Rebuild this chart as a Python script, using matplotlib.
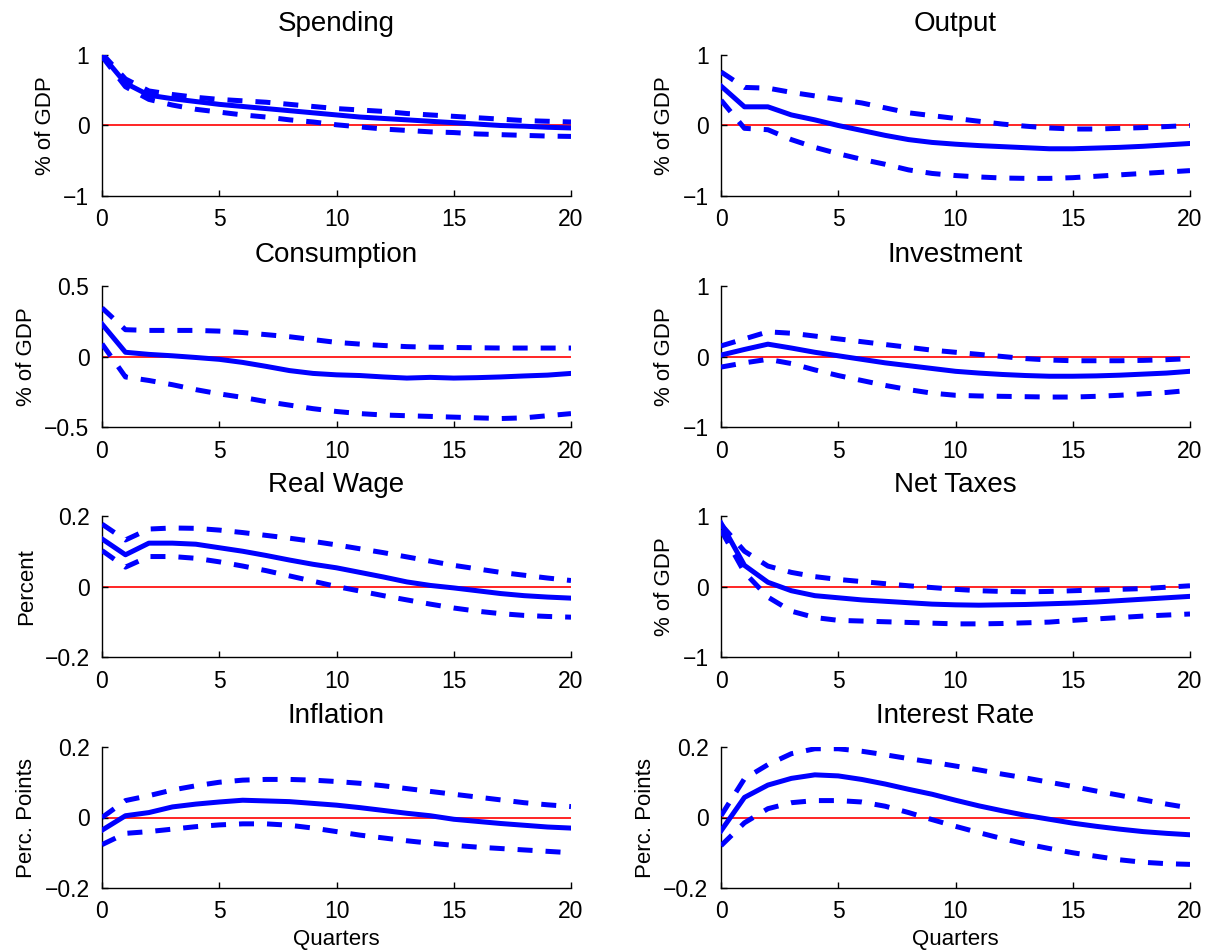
import numpy as np
import matplotlib
matplotlib.use("Agg")
import matplotlib.pyplot as plt

plt.rcParams['font.family'] = ['Liberation Sans', 'DejaVu Sans']

# ---------------- IMPULSE RESPONSES (median, upper band, lower band) ----------------
quarters = np.arange(21)

spending_mid = [1.0, 0.60, 0.43, 0.38, 0.34, 0.30, 0.27, 0.24, 0.21, 0.18, 0.15,
                0.12, 0.10, 0.08, 0.06, 0.04, 0.02, 0.0, -0.01, -0.025, -0.035]
spending_hi = [1.02, 0.66, 0.49, 0.44, 0.40, 0.37, 0.35, 0.33, 0.30, 0.27, 0.24,
               0.22, 0.20, 0.17, 0.15, 0.13, 0.11, 0.09, 0.07, 0.06, 0.05]
spending_lo = [0.98, 0.55, 0.37, 0.29, 0.23, 0.19, 0.15, 0.12, 0.08, 0.05, 0.01,
               -0.02, -0.05, -0.07, -0.09, -0.10, -0.12, -0.13, -0.14, -0.15, -0.155]

output_mid = [0.56, 0.265, 0.265, 0.15, 0.08, 0.0, -0.07, -0.14, -0.2, -0.24, -0.265,
              -0.285, -0.3, -0.315, -0.33, -0.33, -0.32, -0.31, -0.295, -0.275, -0.255]
output_hi = [0.76, 0.54, 0.53, 0.47, 0.42, 0.37, 0.32, 0.25, 0.18, 0.14, 0.1,
             0.06, 0.02, -0.01, -0.035, -0.05, -0.05, -0.04, -0.03, -0.015, 0.0]
output_lo = [0.36, -0.04, -0.06, -0.2, -0.31, -0.4, -0.48, -0.55, -0.63, -0.68, -0.71,
             -0.73, -0.745, -0.75, -0.75, -0.74, -0.72, -0.70, -0.68, -0.66, -0.64]

cons_mid = [0.23, 0.03, 0.015, 0.005, -0.007, -0.02, -0.042, -0.07, -0.1, -0.12, -0.13,
            -0.135, -0.145, -0.153, -0.148, -0.153, -0.15, -0.145, -0.138, -0.132, -0.12]
cons_hi = [0.345, 0.19, 0.185, 0.185, 0.185, 0.18, 0.17, 0.155, 0.14, 0.12, 0.1,
           0.088, 0.078, 0.07, 0.066, 0.064, 0.062, 0.06, 0.06, 0.06, 0.06]
cons_lo = [0.09, -0.145, -0.17, -0.2, -0.235, -0.265, -0.29, -0.32, -0.345, -0.37, -0.39,
           -0.405, -0.415, -0.42, -0.425, -0.43, -0.435, -0.44, -0.435, -0.42, -0.405]

inv_mid = [0.02, 0.1, 0.175, 0.12, 0.06, 0.01, -0.04, -0.09, -0.13, -0.17, -0.21,
           -0.235, -0.255, -0.27, -0.28, -0.28, -0.275, -0.265, -0.25, -0.235, -0.21]
inv_hi = [0.15, 0.25, 0.35, 0.33, 0.29, 0.25, 0.21, 0.17, 0.13, 0.09, 0.06,
          0.03, 0.0, -0.03, -0.05, -0.06, -0.06, -0.06, -0.055, -0.045, -0.03]
inv_lo = [-0.15, -0.09, -0.04, -0.1, -0.19, -0.27, -0.34, -0.41, -0.47, -0.52, -0.55,
          -0.56, -0.565, -0.57, -0.575, -0.575, -0.565, -0.55, -0.53, -0.51, -0.48]

wage_mid = [0.135, 0.09, 0.123, 0.123, 0.12, 0.11, 0.1, 0.088, 0.075, 0.063, 0.053,
            0.04, 0.027, 0.013, 0.003, -0.004, -0.012, -0.02, -0.026, -0.03, -0.033]
wage_hi = [0.177, 0.132, 0.163, 0.166, 0.165, 0.16, 0.153, 0.145, 0.137, 0.128, 0.118,
           0.107, 0.096, 0.084, 0.072, 0.06, 0.05, 0.04, 0.032, 0.024, 0.017]
wage_lo = [0.102, 0.055, 0.085, 0.085, 0.08, 0.07, 0.058, 0.045, 0.03, 0.015, 0.0,
           -0.013, -0.026, -0.038, -0.05, -0.061, -0.07, -0.077, -0.082, -0.085, -0.087]

tax_mid = [0.9, 0.3, 0.06, -0.06, -0.13, -0.16, -0.19, -0.21, -0.23, -0.25, -0.26,
           -0.265, -0.26, -0.255, -0.245, -0.235, -0.22, -0.2, -0.18, -0.16, -0.14]
tax_hi = [0.88, 0.5, 0.29, 0.2, 0.14, 0.1, 0.07, 0.04, 0.01, -0.015, -0.04,
          -0.06, -0.07, -0.075, -0.07, -0.06, -0.05, -0.04, -0.03, -0.01, 0.01]
tax_lo = [0.8, 0.2, -0.15, -0.35, -0.44, -0.48, -0.49, -0.5, -0.51, -0.52, -0.53,
          -0.53, -0.525, -0.515, -0.505, -0.48, -0.46, -0.44, -0.42, -0.405, -0.39]

infl_mid = [-0.036, 0.005, 0.014, 0.03, 0.038, 0.044, 0.049, 0.047, 0.045, 0.04, 0.035,
            0.028, 0.02, 0.012, 0.005, -0.005, -0.011, -0.017, -0.022, -0.027, -0.03]
infl_hi = [0.0, 0.048, 0.062, 0.078, 0.09, 0.1, 0.106, 0.108, 0.108, 0.106, 0.102,
           0.097, 0.09, 0.082, 0.074, 0.066, 0.058, 0.05, 0.042, 0.036, 0.031]
infl_lo = [-0.077, -0.045, -0.04, -0.033, -0.026, -0.021, -0.018, -0.018, -0.022, -0.03, -0.04,
           -0.05, -0.058, -0.066, -0.073, -0.079, -0.084, -0.088, -0.092, -0.096, -0.1]

rate_mid = [-0.038, 0.057, 0.092, 0.111, 0.121, 0.118, 0.108, 0.095, 0.08, 0.066, 0.049,
            0.033, 0.019, 0.006, -0.005, -0.016, -0.025, -0.033, -0.04, -0.045, -0.049]
rate_hi = [0.005, 0.11, 0.15, 0.181, 0.195, 0.195, 0.188, 0.178, 0.167, 0.157, 0.146,
           0.135, 0.123, 0.112, 0.1, 0.088, 0.075, 0.063, 0.05, 0.038, 0.027]
rate_lo = [-0.08, -0.015, 0.025, 0.042, 0.048, 0.048, 0.044, 0.032, 0.014, -0.006, -0.025,
           -0.043, -0.06, -0.075, -0.088, -0.1, -0.11, -0.12, -0.127, -0.131, -0.133]

titles = ["Spending", "Output", "Consumption", "Investment",
          "Real Wage", "Net Taxes", "Inflation", "Interest Rate"]
ylabels = ["% of GDP", "% of GDP", "% of GDP", "% of GDP",
           "Percent", "% of GDP", "Perc. Points", "Perc. Points"]
ylims = [1, 1, 0.5, 1, 0.2, 1, 0.2, 0.2]
series = [(spending_mid, spending_hi, spending_lo),
          (output_mid, output_hi, output_lo),
          (cons_mid, cons_hi, cons_lo),
          (inv_mid, inv_hi, inv_lo),
          (wage_mid, wage_hi, wage_lo),
          (tax_mid, tax_hi, tax_lo),
          (infl_mid, infl_hi, infl_lo),
          (rate_mid, rate_hi, rate_lo)]

# ---------------- FIGURE ----------------
W, H = 1216, 952
fig = plt.figure(figsize=(W / 100, H / 100), dpi=100)

col_left = [102, 721]
ax_w = 469
row_top = [55, 286, 516, 747]
ax_h = 141

for k in range(8):
    r, c = divmod(k, 2)
    ax = fig.add_axes([col_left[c] / W, 1 - (row_top[r] + ax_h) / H, ax_w / W, ax_h / H])
    mid, hi, lo = series[k]
    lim = ylims[k]

    # zero line, median response and error bands
    ax.axhline(0, color="red", lw=1.2, zorder=1)
    ax.plot(quarters, mid, color="blue", lw=3.6, solid_joinstyle="round", zorder=3)
    ax.plot(quarters, hi, color="blue", lw=3.6, ls=(0, (3, 2.6)), zorder=3)
    ax.plot(quarters, lo, color="blue", lw=3.6, ls=(0, (3, 2.6)), zorder=3)

    ax.set_xlim(0, 20)
    ax.set_ylim(-lim, lim)
    ax.set_xticks([0, 5, 10, 15, 20])
    ax.set_yticks([-lim, 0, lim])
    ax.set_yticklabels([f"{-lim:g}".replace("-", "\u2212"), "0", f"{lim:g}"])

    for s in ["top", "right"]:
        ax.spines[s].set_visible(False)
    ax.spines["left"].set_linewidth(1.0)
    ax.spines["bottom"].set_linewidth(1.0)
    ax.tick_params(direction="in", length=4, width=1, labelsize=16.5, pad=9)

    ax.set_title(titles[k], fontsize=20, pad=17)
    ax.set_ylabel(ylabels[k], fontsize=16, labelpad=5)
    if r == 3:
        ax.set_xlabel("Quarters", fontsize=16, labelpad=4)

plt.savefig("out.png", dpi=100)
